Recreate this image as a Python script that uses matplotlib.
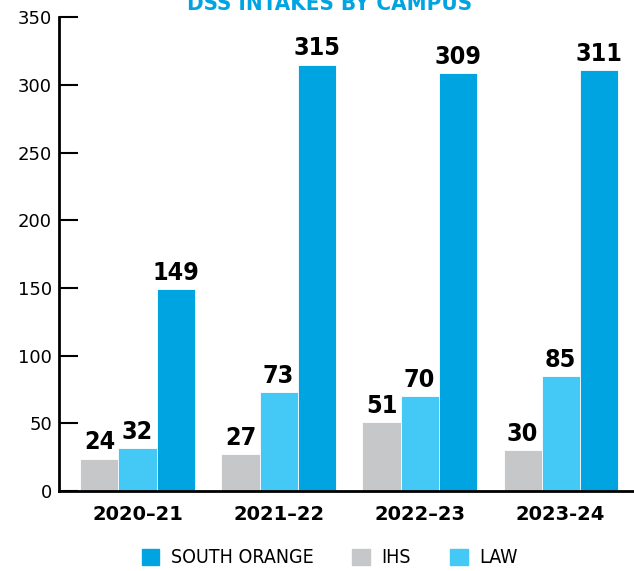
import numpy as np
import matplotlib.pyplot as plt
from matplotlib.patches import Patch

years = ['2020–21', '2021–22', '2022–23', '2023-24']
ihs = [24, 27, 51, 30]
law = [32, 73, 70, 85]
south_orange = [149, 315, 309, 311]

c_so = '#00A4E1'
c_law = '#44C8F5'
c_ihs = '#C6C7C9'

fig = plt.figure(figsize=(6.34, 5.71), dpi=100)
ax = fig.add_axes([0.093, 0.140, 0.907, 0.830])

x = np.arange(len(years))
w = 0.27
for vals, off, color in [(ihs, -w, c_ihs), (law, 0, c_law), (south_orange, w, c_so)]:
    bars = ax.bar(x + off, vals, width=w, color=color, edgecolor='white', linewidth=0.6)
    for b, v in zip(bars, vals):
        ax.text(b.get_x() + b.get_width() / 2, v + 3, str(v), ha='center', va='bottom',
                fontsize=18, fontweight='bold', fontstretch='condensed')

ax.set_xlim(-0.557, 3.52)
ax.set_ylim(0, 350)
ax.set_yticks(range(0, 351, 50))
ax.tick_params(axis='y', direction='in', length=14, width=1.5, labelsize=13, pad=5)
ax.set_xticks(x)
ax.set_xticklabels(years, fontsize=14, fontweight='bold')
ax.tick_params(axis='x', length=0, pad=10)
for s in ['top', 'right']:
    ax.spines[s].set_visible(False)
ax.spines['left'].set_linewidth(2)
ax.spines['bottom'].set_linewidth(2)

# title sits at the very top edge, as in the original
fig.text(0.52, 0.993, 'DSS INTAKES BY CAMPUS', ha='center', va='center',
         fontsize=16, fontweight='bold', color=c_so, fontstretch='condensed')

handles = [Patch(color=c_so), Patch(color=c_ihs), Patch(color=c_law)]
fig.legend(handles, ['SOUTH ORANGE', 'IHS', 'LAW'], loc='center', bbox_to_anchor=(0.52, 0.023),
           ncol=3, frameon=False, handlelength=0.9, handleheight=0.9, handletextpad=0.6,
           columnspacing=2.0, prop={'size': 14, 'stretch': 'condensed'})

fig.savefig('out.png', dpi=100)
